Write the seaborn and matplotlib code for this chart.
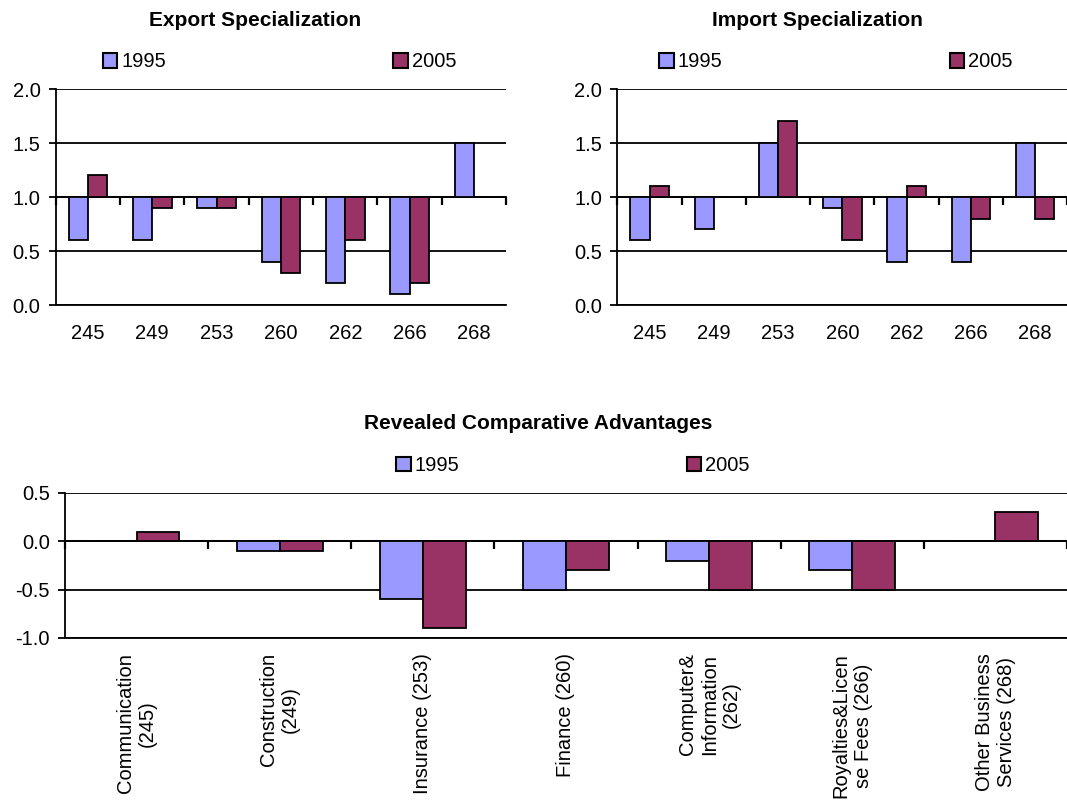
import numpy as np
import pandas as pd
import matplotlib
matplotlib.use("Agg")
import matplotlib.pyplot as plt
import matplotlib.patches as mpatches
import seaborn as sns

# ---------------- data ----------------
codes = ["245", "249", "253", "260", "262", "266", "268"]
years = ["1995", "2005"]

export_1995 = [0.6, 0.6, 0.9, 0.4, 0.2, 0.1, 1.5]
export_2005 = [1.2, 0.9, 0.9, 0.3, 0.6, 0.2, 1.0]

import_1995 = [0.6, 0.7, 1.5, 0.9, 0.4, 0.4, 1.5]
import_2005 = [1.1, 1.0, 1.7, 0.6, 1.1, 0.8, 0.8]

rca_labels = ["Communication\n(245)", "Construction\n(249)", "Insurance (253)",
              "Finance (260)", "Computer&\nInformation\n(262)",
              "Royalties&Licen\nse Fees (266)", "Other Business\nServices (268)"]
rca_1995 = [0.0, -0.1, -0.6, -0.5, -0.2, -0.3, 0.0]
rca_2005 = [0.1, -0.1, -0.9, -0.3, -0.5, -0.5, 0.3]

titles = ["Export Specialization", "Import Specialization", "Revealed Comparative Advantages"]
spec_ticks = [0.0, 0.5, 1.0, 1.5, 2.0]
rca_ticks = [-1.0, -0.5, 0.0, 0.5]

colors = {"1995": "#9999FF", "2005": "#993366"}

# ---------------- style ----------------
sns.set_theme(style="white")
plt.rcParams["font.family"] = ["Liberation Sans", "DejaVu Sans"]
plt.rcParams["axes.edgecolor"] = "black"
plt.rcParams["axes.linewidth"] = 1.3
plt.rcParams["text.color"] = "black"
plt.rcParams["xtick.color"] = "black"
plt.rcParams["ytick.color"] = "black"
plt.rcParams["axes.labelcolor"] = "black"

FS = 14.5
LW = 1.3

fig = plt.figure(figsize=(10.67, 8.05), dpi=100)


def long_df(cats, v95, v05, base):
    return pd.DataFrame({
        "cat": list(cats) * 2,
        "year": ["1995"] * len(cats) + ["2005"] * len(cats),
        "dev": [v - base for v in v95] + [v - base for v in v05],
    })


def draw(ax, cats, v95, v05, base, ylim, yticks, xlabels, rotate):
    df = long_df(cats, v95, v05, base)
    sns.barplot(data=df, x="cat", y="dev", hue="year", hue_order=years,
                palette=colors, order=cats, errorbar=None, width=0.6,
                saturation=1, edgecolor="black", linewidth=LW,
                bottom=base, legend=False, ax=ax, zorder=3)
    ax.set_ylim(*ylim)
    ax.set_xlim(-0.5, len(cats) - 0.5)
    ax.set_yticks(yticks)
    ax.set_yticklabels([f"{t:.1f}" for t in yticks], fontsize=FS)
    ax.yaxis.grid(True, color="black", linewidth=LW)
    ax.set_axisbelow(True)
    ax.set_xlabel("")
    ax.set_ylabel("")
    for s in ["top", "right"]:
        ax.spines[s].set_visible(False)
    ax.tick_params(axis="y", left=True, direction="out", length=5, width=LW,
                   pad=6, colors="black", labelsize=FS)
    ax.set_xticks(range(len(cats)))
    if rotate:
        ax.set_xticklabels(xlabels, rotation=90, fontsize=FS, ha="center",
                           va="top", multialignment="center")
        ax.tick_params(axis="x", length=0, pad=11)
    else:
        ax.set_xticklabels(xlabels, fontsize=FS)
        ax.tick_params(axis="x", length=0, pad=14)
    # axis line at the baseline with category-boundary ticks
    frac = (base - ylim[0]) / (ylim[1] - ylim[0])
    sec = ax.secondary_xaxis(frac)
    bounds = np.arange(len(cats) + 1) - 0.5
    sec.set_xticks(bounds)
    sec.set_xticklabels([""] * len(bounds))
    sec.tick_params(axis="x", direction="in", length=6, width=1.6, colors="black")
    for s in sec.spines.values():
        s.set_color("black")
        s.set_linewidth(LW)


def add_legend(xc, yc):
    handles = [mpatches.Patch(facecolor=colors[y], edgecolor="black", linewidth=1.5, label=y)
               for y in years]
    fig.legend(handles=handles, loc="center", bbox_to_anchor=(xc, yc),
               bbox_transform=fig.transFigure, ncol=2, frameon=False,
               fontsize=FS, columnspacing=11.3, handlelength=0.72,
               handleheight=0.72, handletextpad=0.2, borderaxespad=0,
               labelcolor="black")


ax1 = fig.add_axes([0.0522, 0.6211, 0.4222, 0.2683])
draw(ax1, codes, export_1995, export_2005, 1.0, (0, 2), spec_ticks, codes, False)
ax2 = fig.add_axes([0.5786, 0.6211, 0.4217, 0.2683])
draw(ax2, codes, import_1995, import_2005, 1.0, (0, 2), spec_ticks, codes, False)
ax3 = fig.add_axes([0.0609, 0.2075, 0.9391, 0.1801])
draw(ax3, codes, rca_1995, rca_2005, 0.0, (-1.0, 0.5), rca_ticks, rca_labels, True)

fig.text(0.239, 0.975, titles[0], ha="center", va="center", fontsize=15, fontweight="bold")
fig.text(0.766, 0.975, titles[1], ha="center", va="center", fontsize=15, fontweight="bold")
fig.text(0.504, 0.4745, titles[2], ha="center", va="center", fontsize=15, fontweight="bold")

add_legend(0.262, 0.923)
add_legend(0.7835, 0.923)
add_legend(0.537, 0.422)

fig.savefig("out.png", dpi=100)
